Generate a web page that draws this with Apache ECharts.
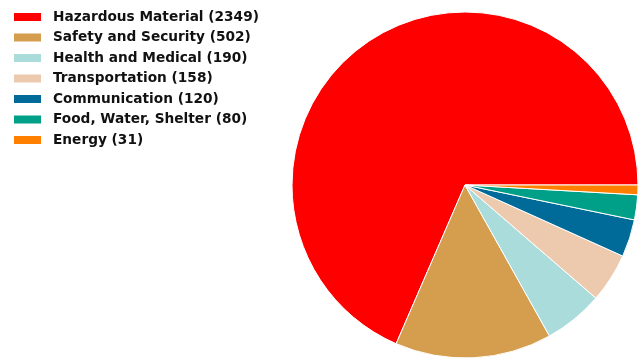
<!DOCTYPE html>
<html>
<head>
<meta charset="utf-8">
<script src="https://cdn.jsdelivr.net/npm/echarts@6/dist/echarts.min.js"></script>
<style>
  html, body { margin: 0; padding: 0; background: #fff; }
  #chart { width: 640px; height: 358px; }
</style>
</head>
<body>
<div id="chart"></div>
<script>
// Incident counts by category
const categories = [
  'Hazardous Material',
  'Safety and Security',
  'Health and Medical',
  'Transportation',
  'Communication',
  'Food, Water, Shelter',
  'Energy'
];
const counts = [2349, 502, 190, 158, 120, 80, 31];
const colors = ['#ff0000', '#d59d4e', '#aadcdc', '#edc9ae', '#006b99', '#00a088', '#ff8000'];

const labelOf = {};
categories.forEach((c, i) => { labelOf[c] = c + ' (' + counts[i] + ')'; });

const chart = echarts.init(document.getElementById('chart'), null, { renderer: 'canvas' });
chart.setOption({
  animation: false,
  color: colors,
  legend: {
    orient: 'vertical',
    left: 14,
    top: 10,
    padding: 0,
    itemWidth: 27,
    itemHeight: 8,
    itemGap: 6.5,
    icon: 'rect',
    selectedMode: false,
    itemStyle: { borderWidth: 0 },
    formatter: name => labelOf[name],
    textStyle: {
      fontFamily: 'DejaVu Sans',
      fontWeight: 'bold',
      fontSize: 13.7,
      color: '#111',
      padding: [0, 0, 0, 7]
    },
    data: categories
  },
  series: [{
    type: 'pie',
    center: [465, 185],
    radius: 173,
    startAngle: 0,
    clockwise: false,
    label: { show: false },
    labelLine: { show: false },
    emphasis: { disabled: true },
    itemStyle: { borderColor: '#fff', borderWidth: 1 },
    data: categories.map((c, i) => ({ name: c, value: counts[i] }))
  }]
});
</script>
</body>
</html>
